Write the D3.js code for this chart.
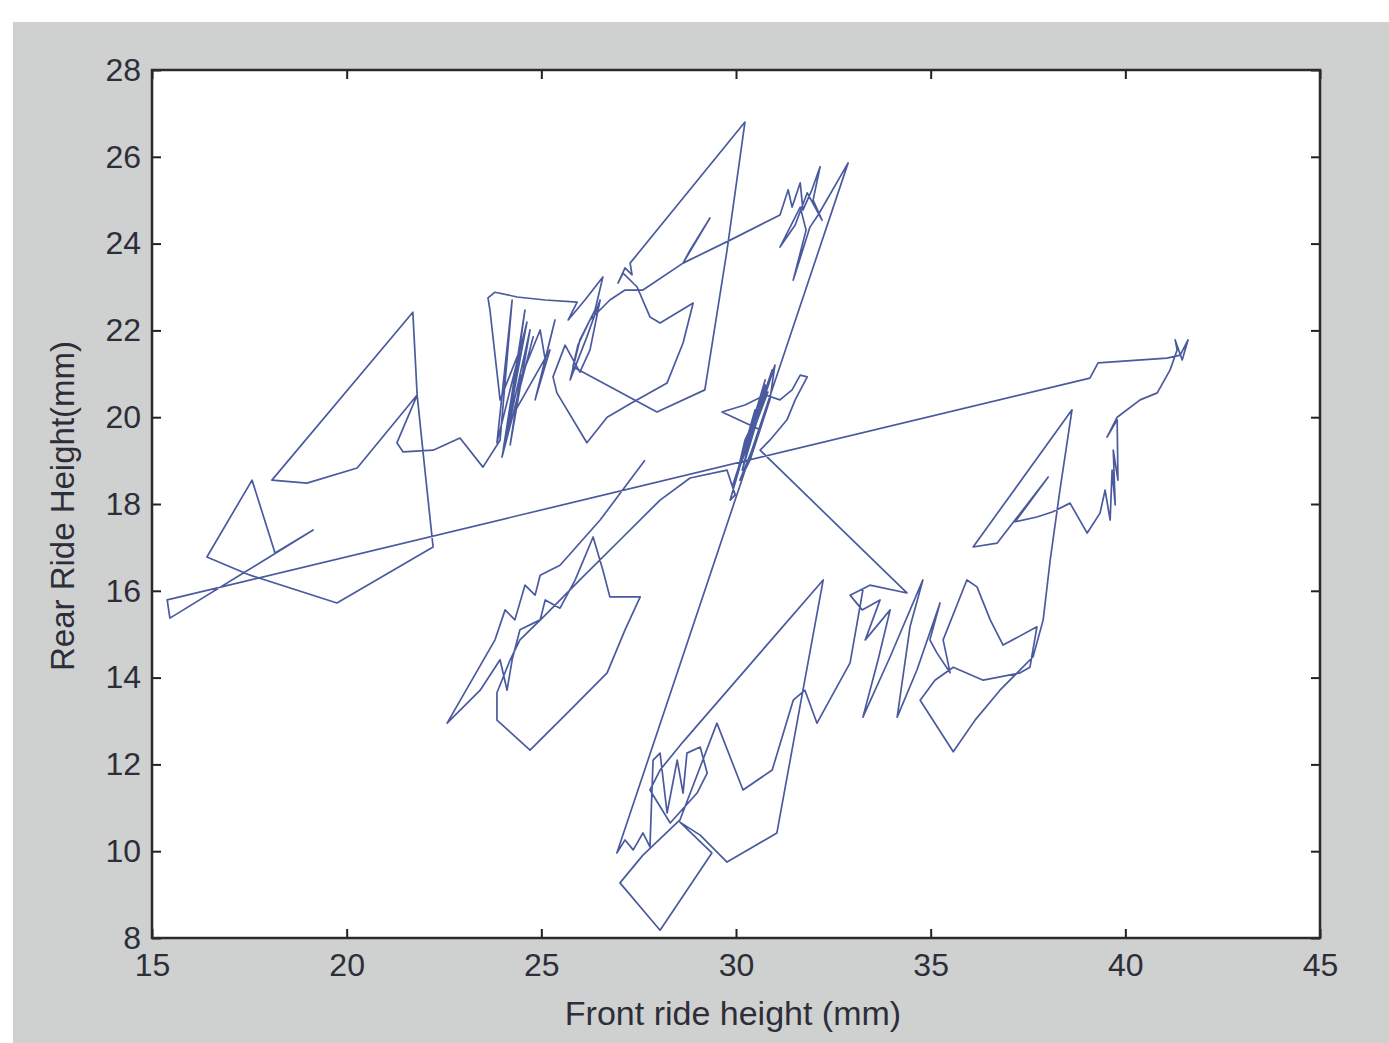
<!DOCTYPE html>
<html>
<head>
<meta charset="utf-8">
<script src="https://cdn.jsdelivr.net/npm/d3@7"></script>
<style>
  body { margin: 0; background: #fff; }
  text { font-family: "Liberation Sans", Arial, sans-serif; }
</style>
</head>
<body>
<script>
// ride height trace, [front mm, rear mm], piece by piece in logging order
var lowerWing = [[27.66,19.01],[26.51,17.63],[25.48,16.59],[24.97,16.36],[24.84,15.90],[24.58,16.13],
    [24.32,15.33],[24.07,15.56],[23.81,14.87],[22.58,12.95],[23.43,13.71],[23.94,14.41],[24.12,13.71],
    [24.25,14.41],[24.45,15.10],[24.97,15.33],[25.10,15.79],[25.48,15.60],[25.87,16.25],[26.33,17.24],
    [26.58,16.48],[26.76,15.86],[27.54,15.86],[27.15,15.10],[26.69,14.11],[25.74,13.25],[24.71,12.33],
    [23.86,13.02],[23.86,13.65],[24.20,14.41],[24.45,14.87],[25.10,15.44],[25.99,16.25],[27.02,17.17],
    [28.05,18.09],[28.82,18.60],[29.77,18.78]];

var centre = [[29.98,18.21],[29.85,18.09],[30.75,20.86],[29.98,18.55],[30.93,21.09],[30.16,18.78],
    [30.62,20.40],[29.92,18.44],[30.82,20.58],[30.23,19.47],[30.05,18.78],[30.49,20.17],[30.31,19.36],
    [30.75,20.74],[30.54,19.94],[31.00,21.20],[30.87,20.40],[30.36,19.01],[30.10,18.55],[30.62,19.71],
    [29.64,20.12],[30.23,20.28],[30.75,20.51],[31.13,20.40],[31.44,20.63],[31.65,20.97],[31.83,20.93],
    [31.52,20.40],[31.31,19.94],[30.87,19.47],[30.62,19.24]];

var lowerRight = [[34.39,15.95],[33.44,16.13],[32.93,15.90],[33.24,15.56],[33.70,15.79],[33.32,14.87],
    [33.96,15.56],[33.65,14.41],[33.26,13.09],[33.96,14.48],[34.80,16.25],[34.47,15.17],[34.14,13.09],
    [34.65,14.18],[35.24,15.72],[34.98,14.87],[35.16,14.57],[35.50,14.11],[35.32,14.87],[35.93,16.25],
    [36.19,16.09],[36.53,15.33],[36.86,14.75],[37.73,15.17],[37.55,14.24],[37.30,14.11],[36.35,13.94],
    [35.58,14.24],[35.11,13.94],[34.73,13.48],[35.58,12.29],[36.14,13.02],[36.78,13.71],[37.63,14.48],
    [37.89,15.33],[38.07,16.71],[38.32,18.32],[38.63,20.17],[36.09,17.01],[36.71,17.10],[38.02,18.62],
    [37.17,17.59],[37.73,17.70],[38.14,17.82],[38.58,18.02],[39.02,17.33],[39.35,17.79],[39.48,18.32],
    [39.61,17.63],[39.66,18.78],[39.74,17.98],[39.69,19.24],[39.81,18.55],[39.79,19.94],[39.53,19.54],
    [39.79,20.00],[40.38,20.40],[40.82,20.56],[41.15,21.09],[41.33,21.55],[41.28,21.78],[41.46,21.32],
    [41.61,21.78],[41.41,21.43],[41.07,21.36],[39.30,21.25],[39.09,20.90],[15.39,15.79],[15.46,15.37]];

var leftWing = [[19.14,17.40],[18.16,16.87],[17.57,18.55],[16.41,16.78],[17.52,16.36],[19.75,15.72],
    [22.22,17.01],[22.01,18.78],[21.81,20.51],[21.70,22.42],[18.08,18.55],[18.98,18.48],[20.27,18.83],
    [21.81,20.51],[21.29,19.41],[21.45,19.20],[22.22,19.24],[22.91,19.52],[23.50,18.85],[23.94,19.47]];

var upperWing = [[24.25,22.70],[23.86,19.41],[24.63,22.19],[23.99,19.08],[24.79,21.85],[24.12,19.54],
    [24.58,22.47],[24.02,19.24],[24.71,22.01],[24.20,19.36],
    [24.45,20.86],[24.97,22.01],[25.10,21.32],[25.35,22.24],[24.84,20.40],[25.22,21.55],[24.20,19.94],
    [24.45,21.55],[23.94,20.40],[23.68,22.47],[23.63,22.75],[23.81,22.88],[24.38,22.77],[25.10,22.70],
    [25.92,22.65],[25.69,22.24],[26.12,22.70],[26.58,23.23],[26.38,22.47],[25.99,21.78],[25.74,20.86],
    [26.17,21.85],[26.51,22.70],[26.25,21.55],[25.99,21.04],[25.61,21.66],[25.30,20.93],[25.40,20.56],
    [26.17,19.41],[26.69,20.00],[27.36,20.35],[28.23,20.79],[28.64,21.71],[28.90,22.63],[28.05,22.17],
    [27.79,22.31],[27.46,23.00],[27.10,23.32],[26.97,23.09],[27.15,23.44],[27.33,23.28],[27.28,23.55],
    [30.23,26.80],[29.77,23.85],[29.20,20.63],[27.97,20.12],[25.81,21.16],[25.94,21.66],[26.25,22.24],
    [26.76,22.70],[27.15,22.93],[27.61,22.93],[28.64,23.55],[29.33,24.59],[28.82,23.85],[28.64,23.55],
    [29.85,24.08],[31.13,24.66]];

var upperRight = [[31.34,25.24],[31.44,24.84],[31.65,25.40],[31.72,24.77],[31.95,25.24],[32.16,25.77],
    [31.98,25.00],[32.21,24.54],[31.83,25.17],[31.52,24.43],[31.13,23.92],[31.65,24.84],[31.80,24.31],
    [31.47,23.16],[31.90,24.38],[32.11,24.66],[32.88,25.86],[26.94,9.96]];

var lowerMiddle = [[27.15,10.26],[27.36,10.03],[27.61,10.42],[27.79,10.10],[27.87,12.10],[28.05,12.26],
    [28.23,10.88],[28.49,12.10],[28.64,11.34],[28.74,12.26],[29.08,12.40],[29.26,11.80],[29.00,11.34],
    [28.31,10.65],[27.79,11.41],[28.05,11.87],[28.64,12.52],[32.24,16.25],[31.72,13.71],[31.05,10.42],
    [29.77,9.75],[29.08,10.37],[28.56,10.67],[29.38,9.96],[28.05,8.18],[27.02,9.27],[27.61,9.91],
    [28.56,10.72],[29.51,12.95],[30.18,11.41],[30.93,11.87],[31.47,13.48],[31.77,13.71],[32.08,12.95],
    [32.93,14.34],[33.26,16.02]];

var xTicks = [15, 20, 25, 30, 35, 40, 45];
var yTicks = [8, 10, 12, 14, 16, 18, 20, 22, 24, 26, 28];
var xTitle = "Front ride height (mm)";
var yTitle = "Rear Ride Height(mm)";

var trace = [].concat(lowerWing, centre, lowerRight, leftWing, upperWing, upperRight, lowerMiddle);

var W = 1389, H = 1043;
var margin = {top: 70, right: 69, bottom: 105, left: 152},
    width = W - margin.left - margin.right,
    height = H - margin.top - margin.bottom;

var svg = d3.select("body").append("svg")
    .attr("width", W)
    .attr("height", H);

// grey figure background
svg.append("rect")
    .attr("x", 13).attr("y", 22)
    .attr("width", W - 13).attr("height", H - 22)
    .attr("fill", "#cfd1d0");

var g = svg.append("g")
    .attr("transform", "translate(" + margin.left + "," + margin.top + ")");

g.append("rect")
    .attr("width", width).attr("height", height)
    .attr("fill", "#fff");

var x = d3.scaleLinear().domain([15, 45]).range([0, width]);
var y = d3.scaleLinear().domain([8, 28]).range([height, 0]);

g.append("path")
    .datum(trace)
    .attr("fill", "none")
    .attr("stroke", "#4a5a9e")
    .attr("stroke-width", 1.7)
    .attr("stroke-linejoin", "round")
    .attr("d", d3.line()
        .x(function(d) { return x(d[0]); })
        .y(function(d) { return y(d[1]); }));

// axes, matlab style: ticks inside on all four sides
function styleAxis(sel) {
    sel.select(".domain").remove();
    sel.selectAll(".tick line").attr("stroke", "#222").attr("stroke-width", 2);
    sel.selectAll(".tick text")
        .attr("fill", "#2e2e3a")
        .style("font-size", "32px");
}

g.append("g")
    .attr("transform", "translate(0," + height + ")")
    .call(d3.axisBottom(x).tickValues(xTicks).tickSize(-9).tickPadding(15).tickFormat(d3.format("d")))
    .call(styleAxis);

g.append("g")
    .call(d3.axisTop(x).tickValues(xTicks).tickSize(-9).tickFormat(""))
    .call(styleAxis);

g.append("g")
    .call(d3.axisLeft(y).tickValues(yTicks).tickSize(-9).tickPadding(11).tickFormat(d3.format("d")))
    .call(styleAxis);

g.append("g")
    .attr("transform", "translate(" + width + ",0)")
    .call(d3.axisRight(y).tickValues(yTicks).tickSize(-9).tickFormat(""))
    .call(styleAxis);

// box
g.append("rect")
    .attr("width", width).attr("height", height)
    .attr("fill", "none")
    .attr("stroke", "#2a2a2a")
    .attr("stroke-width", 2.5);

svg.append("text")
    .attr("x", 733)
    .attr("y", 1025)
    .attr("text-anchor", "middle")
    .attr("fill", "#2e2e3a")
    .style("font-size", "34px")
    .text(xTitle);

svg.append("text")
    .attr("transform", "translate(74," + 506 + ") rotate(-90)")
    .attr("text-anchor", "middle")
    .attr("fill", "#2e2e3a")
    .style("font-size", "33px")
    .text(yTitle);
</script>
</body>
</html>
